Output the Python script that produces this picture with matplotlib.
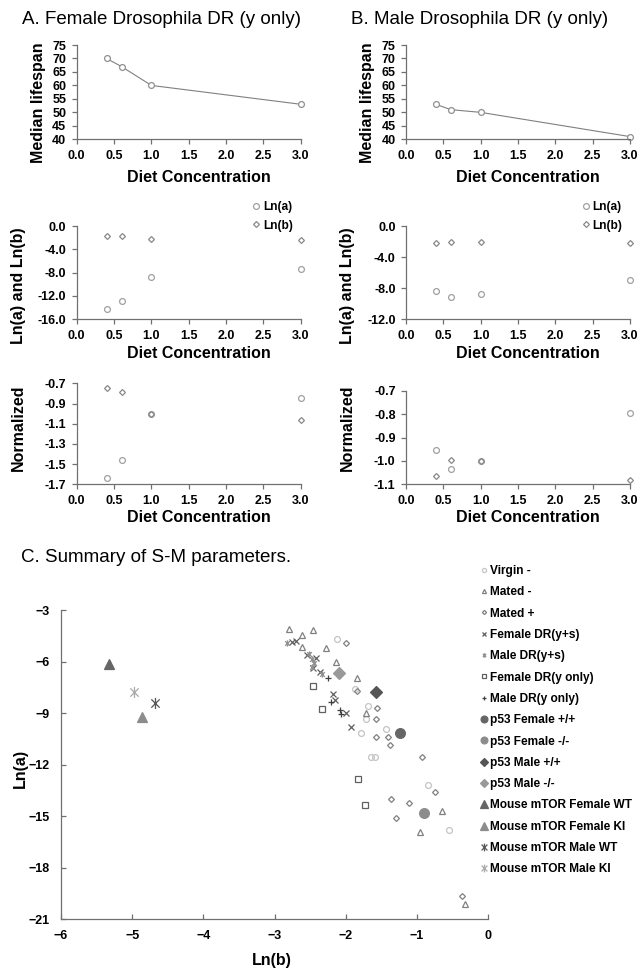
import matplotlib
matplotlib.use("Agg")
import matplotlib.pyplot as plt
from matplotlib.path import Path
from matplotlib.ticker import FormatStrFormatter

plt.rcParams['font.family'] = ['Liberation Sans', 'DejaVu Sans']
plt.rcParams['font.weight'] = 'bold'

# ---- panels A / B data ----
diet = [0.4, 0.6, 1.0, 3.0]
f_lifespan = [70, 67, 60, 53]
m_lifespan = [53, 51, 50, 41]
f_ln_a = [-14.3, -12.85, -8.7, -7.4]
f_ln_b = [-1.7, -1.8, -2.3, -2.4]
m_ln_a = [-8.4, -9.1, -8.75, -6.95]
m_ln_b = [-2.25, -2.05, -2.05, -2.25]
f_norm_a = [-1.64, -1.46, -1.0, -0.85]
f_norm_b = [-0.75, -0.79, -1.0, -1.06]
m_norm_a = [-0.955, -1.035, -1.0, -0.795]
m_norm_b = [-1.065, -0.995, -1.0, -1.08]

# ---- panel C data (Ln(b), Ln(a)) ----
virgin_b = [-2.12, -1.87, -1.69, -1.71, -1.79, -1.43, -1.65, -1.59, -0.84, -0.55]
virgin_a = [-4.71, -7.58, -8.61, -9.33, -10.15, -9.90, -11.58, -11.58, -13.19, -15.79]
mated_minus_b = [-2.80, -2.61, -2.46, -2.61, -2.27, -2.13, -1.84, -1.71, -0.64, -0.96, -0.32]
mated_minus_a = [-4.11, -4.46, -4.17, -5.15, -5.24, -6.02, -6.96, -9.00, -14.67, -15.90, -20.13]
mated_plus_b = [-2.00, -1.84, -1.56, -1.57, -1.58, -1.40, -1.38, -0.93, -0.75, -1.37, -1.11, -1.29, -0.36]
mated_plus_a = [-4.91, -7.74, -8.69, -9.36, -10.41, -10.41, -10.84, -11.58, -13.57, -14.01, -14.25, -15.09, -19.64]
fdr_ys_b = [-2.76, -2.70, -2.55, -2.42, -2.46, -2.36, -2.18, -2.15, -2.00, -1.93]
fdr_ys_a = [-4.85, -4.78, -5.62, -5.77, -6.35, -6.60, -7.91, -8.22, -9.00, -9.78]
mdr_ys_b = [-2.82, -2.52, -2.48, -2.45, -2.47, -2.33]
mdr_ys_a = [-4.92, -5.55, -5.85, -6.10, -6.30, -6.72]
fdr_y_b = [-1.73, -1.82, -2.33, -2.46]
fdr_y_a = [-14.36, -12.84, -8.75, -7.43]
mdr_y_b = [-2.21, -2.07, -2.08, -2.25]
mdr_y_a = [-8.36, -9.04, -8.81, -6.94]
p53_f_wt_b, p53_f_wt_a = [-1.24], [-10.15]
p53_f_ko_b, p53_f_ko_a = [-0.90], [-14.83]
p53_m_wt_b, p53_m_wt_a = [-1.58], [-7.80]
p53_m_ko_b, p53_m_ko_a = [-2.09], [-6.64]
mouse_f_wt_b, mouse_f_wt_a = [-5.33], [-6.16]
mouse_f_ki_b, mouse_f_ki_a = [-4.86], [-9.24]
mouse_m_wt_b, mouse_m_wt_a = [-4.68], [-8.42]
mouse_m_ki_b, mouse_m_ki_a = [-4.97], [-7.78]

W, H = 638, 969
fig = plt.figure(figsize=(W / 100, H / 100), dpi=100)


def add_ax(l, t, r, b):
    return fig.add_axes([l / W, 1 - b / H, (r - l) / W, (b - t) / H])


def ftext(x, y, s, **kw):
    fig.text(x / W, 1 - y / H, s, **kw)


star = Path([(0, -1), (0, 1), (-0.75, -0.75), (0.75, 0.75), (-0.75, 0.75), (0.75, -0.75)],
            [Path.MOVETO, Path.LINETO, Path.MOVETO, Path.LINETO, Path.MOVETO, Path.LINETO])

axcol = '#707070'
lab = dict(fontsize=11.5, fontweight='bold', ha='center', va='center')


def style(ax, direction='out', pad=3):
    for s in ['top', 'right']:
        ax.spines[s].set_visible(False)
    for s in ['left', 'bottom']:
        ax.spines[s].set_color(axcol)
        ax.spines[s].set_linewidth(0.9)
    ax.tick_params(direction=direction, length=3.5, width=0.9, color=axcol, pad=pad, labelsize=9)


def diet_axis(ax):
    ax.set_xlim(0, 3.0)
    ax.set_xticks([0, 0.5, 1.0, 1.5, 2.0, 2.5, 3.0])
    ax.xaxis.set_major_formatter(FormatStrFormatter('%.1f'))


circ = dict(linestyle='none', marker='o', mfc='none', mec='#a0a0a0', ms=4.2, mew=0.9, clip_on=False)
diam = dict(linestyle='none', marker='D', mfc='none', mec='#888888', ms=3.0, mew=0.9, clip_on=False)

# ---- row 1: median lifespan ----
for x0, life, title in [(76.7, f_lifespan, 'A. Female Drosophila DR (y only)'),
                        (406, m_lifespan, 'B. Male Drosophila DR (y only)')]:
    ax = add_ax(x0, 45, x0 + 224, 139.3)
    ax.plot(diet, life, color='#808080', lw=0.8, marker='o', mfc='white', mec='#909090',
            ms=4.2, mew=0.9, clip_on=False)
    diet_axis(ax)
    ax.set_ylim(40, 75)
    ax.set_yticks(range(40, 80, 5))
    style(ax, pad=4)
    ftext(x0 - 55, 20, title, fontsize=13.5, fontweight='normal', va='center')
    ftext(x0 - 38.5, 103, 'Median lifespan', rotation=90, **lab)
    ftext(x0 + 122, 177, 'Diet Concentration', **lab)

# ---- row 2: Ln(a) and Ln(b) ----
for x0, la, lb, ylo in [(76.7, f_ln_a, f_ln_b, -16), (406, m_ln_a, m_ln_b, -12)]:
    ax = add_ax(x0, 226, x0 + 224, 319.3)
    ax.plot(diet, la, label='Ln(a)', **circ)
    ax.plot(diet, lb, label='Ln(b)', **diam)
    diet_axis(ax)
    ax.set_ylim(ylo, 0)
    ax.set_yticks(range(ylo, 1, 4))
    ax.yaxis.set_major_formatter(FormatStrFormatter('%.1f'))
    style(ax, pad=4)
    ax.legend(loc='upper left', bbox_to_anchor=((x0 + 170) / W, 1 - 195 / H),
              bbox_transform=fig.transFigure, frameon=False, fontsize=8.6,
              handlelength=0.6, handletextpad=0.3, labelspacing=0.55, borderpad=0)
    ftext(x0 - 58.5, 286, 'Ln(a) and Ln(b)', rotation=90, **lab)
    ftext(x0 + 122, 354, 'Diet Concentration', **lab)

# ---- row 3: normalized ----
for x0, top, na, nb, ylo, step in [(76.7, 383.3, f_norm_a, f_norm_b, -1.7, 0.2),
                                    (406, 390.7, m_norm_a, m_norm_b, -1.1, 0.1)]:
    ax = add_ax(x0, top, x0 + 224, 484.3)
    ax.plot(diet, na, **circ)
    ax.plot(diet, nb, **diam)
    diet_axis(ax)
    ax.set_ylim(ylo, -0.7)
    n = int(round((-0.7 - ylo) / step))
    ax.set_yticks([ylo + i * step for i in range(n + 1)])
    ax.yaxis.set_major_formatter(FormatStrFormatter('%.1f'))
    style(ax, pad=4)
    ftext(x0 - 58.5, 428, 'Normalized', rotation=90, **lab)
    ftext(x0 + 122, 517, 'Diet Concentration', **lab)

# ---- panel C ----
ftext(21, 558, 'C. Summary of S-M parameters.', fontsize=13.5, fontweight='normal', va='center')
ax = add_ax(61, 610, 488, 919.3)
series = [
    (virgin_b, virgin_a, 'Virgin -', dict(marker='o', mfc='none', mec='#c4c4c4', ms=4.2)),
    (mated_minus_b, mated_minus_a, 'Mated -', dict(marker='^', mfc='none', mec='#808080', ms=4.2)),
    (mated_plus_b, mated_plus_a, 'Mated +', dict(marker='D', mfc='none', mec='#808080', ms=3.0)),
    (fdr_ys_b, fdr_ys_a, 'Female DR(y+s)', dict(marker='x', mec='#606060', ms=4.5)),
    (mdr_ys_b, mdr_ys_a, 'Male DR(y+s)', dict(marker=star, mec='#909090', ms=4.5)),
    (fdr_y_b, fdr_y_a, 'Female DR(y only)', dict(marker='s', mfc='none', mec='#606060', ms=4.0)),
    (mdr_y_b, mdr_y_a, 'Male DR(y only)', dict(marker='+', mec='#404040', ms=5.0)),
    (p53_f_wt_b, p53_f_wt_a, 'p53 Female +/+', dict(marker='o', mfc='#666666', mec='#666666', ms=7.0)),
    (p53_f_ko_b, p53_f_ko_a, 'p53 Female -/-', dict(marker='o', mfc='#8c8c8c', mec='#8c8c8c', ms=7.0)),
    (p53_m_wt_b, p53_m_wt_a, 'p53 Male +/+', dict(marker='D', mfc='#555555', mec='#555555', ms=6.0)),
    (p53_m_ko_b, p53_m_ko_a, 'p53 Male -/-', dict(marker='D', mfc='#999999', mec='#999999', ms=6.0)),
    (mouse_f_wt_b, mouse_f_wt_a, 'Mouse mTOR Female WT', dict(marker='^', mfc='#666666', mec='#666666', ms=7.5)),
    (mouse_f_ki_b, mouse_f_ki_a, 'Mouse mTOR Female KI', dict(marker='^', mfc='#8c8c8c', mec='#8c8c8c', ms=7.5)),
    (mouse_m_wt_b, mouse_m_wt_a, 'Mouse mTOR Male WT', dict(marker=star, mec='#555555', ms=8.0)),
    (mouse_m_ki_b, mouse_m_ki_a, 'Mouse mTOR Male KI', dict(marker=star, mec='#aaaaaa', ms=8.0)),
]
for xb, ya, name, kw in series:
    ax.plot(xb, ya, linestyle='none', mew=0.9, label=name, **kw)
ax.set_xlim(-6, 0)
ax.set_ylim(-21, -3)
ax.set_xticks(range(-6, 1))
ax.set_yticks(range(-21, -2, 3))
style(ax, direction='in', pad=8)
ax.legend(loc='upper left', bbox_to_anchor=(480 / W, 1 - 565 / H), bbox_transform=fig.transFigure,
          frameon=False, fontsize=8.6, handlelength=0.6, handletextpad=0.25, labelspacing=0.78,
          borderpad=0, borderaxespad=0, markerscale=0.7)
ftext(20, 768, 'Ln(a)', rotation=90, **lab)
ftext(272, 960, 'Ln(b)', **lab)

fig.savefig('out.png', dpi=100)
